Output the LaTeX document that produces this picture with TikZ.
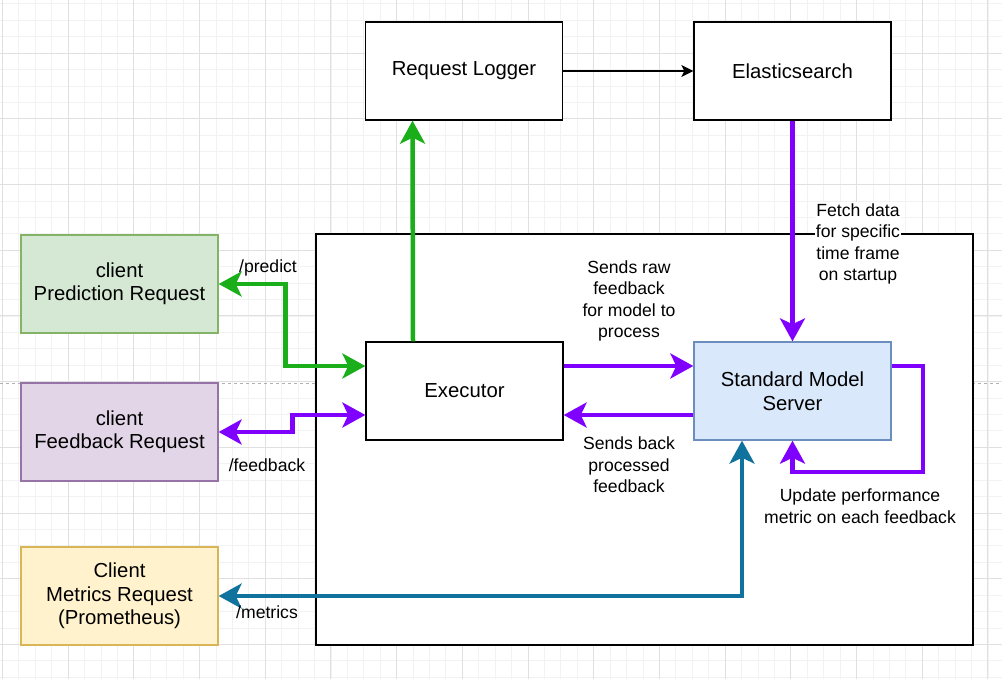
\documentclass[tikz,border=0pt]{standalone}
\usepackage{fontspec}
\setmainfont{Liberation Sans}
\usepackage{tikz}
\usetikzlibrary{positioning}
\usetikzlibrary{arrows.meta,calc}
\definecolor{linkgreen}{HTML}{1AAF1A}
\definecolor{linkpurple}{HTML}{7F00FF}
\definecolor{linkteal}{HTML}{10739E}
\definecolor{greenfill}{HTML}{D5E8D4}
\definecolor{greendraw}{HTML}{82B366}
\definecolor{purplefill}{HTML}{E1D5E7}
\definecolor{purpledraw}{HTML}{9673A6}
\definecolor{yellowfill}{HTML}{FFF2CC}
\definecolor{yellowdraw}{HTML}{D6B656}
\definecolor{bluefill}{HTML}{DAE8FC}
\definecolor{bluedraw}{HTML}{6C8EBF}
\tikzstyle{block}=[rectangle,draw=black,line width=1.3pt,fill=white,minimum width=197pt,minimum height=98pt,inner sep=0pt,align=center,font=\fontsize{20.3}{23.5}\selectfont]
\tikzstyle{edge} = [draw,line width=1.3pt,-{Stealth[length=12pt,width=12pt,inset=3pt]}]
\tikzstyle{thickedge} = [draw,line width=4.5pt,-{Stealth[length=23pt,width=25pt,inset=6pt]}]
\tikzstyle{bothedge} = [draw,line width=4.5pt,{Stealth[length=23pt,width=25pt,inset=6pt]}-{Stealth[length=23pt,width=25pt,inset=6pt]}]
\tikzstyle{weight} = [font=\fontsize{17.6}{21.6}\selectfont,align=center,inner sep=1pt]
\tikzstyle{gridline} = [line width=0.6pt,black!5]
\tikzstyle{majorline} = [line width=0.8pt,black!12]

\begin{document}
\begin{tikzpicture}[x=1pt,y=-1pt]
    \useasboundingbox (0,0) rectangle (1002,679);

    % background grid
    \foreach \k in {-4,...,57}
        \draw[gridline] (68+\k*16.425,0) -- (68+\k*16.425,679);
    \foreach \k in {-3,...,38}
        \draw[gridline] (0,53+\k*16.425) -- (1002,53+\k*16.425);
    \foreach \k in {-1,...,14}
        \draw[majorline] (68+\k*65.7,0) -- (68+\k*65.7,679);
    \foreach \k in {-1,...,10}
        \draw[majorline] (0,53+\k*65.7) -- (1002,53+\k*65.7);
    \draw[black!30,dashed] (0,383) -- (1002,383);

    \node[draw=black,line width=1.3pt,fill=white,minimum width=657pt,minimum height=411pt,inner sep=0pt] (frame) at (644.5,439.5) {};

    \foreach \pos/\name/\txt in {{(464,71)/logger/Request Logger}, {(792.5,71)/elastic/Elasticsearch}, {(464.5,391)/executor/Executor}}
        \node[block] (\name) at \pos {\txt};

    \foreach \pos/\name/\txt/\fillc/\drawc in {{(119.5,284)/predict/client\\Prediction Request/greenfill/greendraw},
        {(119.5,432)/feedback/client\\Feedback Request/purplefill/purpledraw},
        {(119.5,596)/metrics/Client\\Metrics Request\\(Prometheus)/yellowfill/yellowdraw},
        {(792.5,391)/sms/Standard Model\\Server/bluefill/bluedraw}}
        \node[block,fill=\fillc,draw=\drawc] (\name) at \pos {\txt};

    \coordinate (loop) at (923,472);

    \path[edge] (logger) -- (elastic);
    \path[thickedge,draw=linkgreen] ([xshift=-51.5pt]executor.north) -- ([xshift=-51.5pt]logger.south);
    \path[bothedge,draw=linkgreen] (predict.east) -- ++(67,0) |- ([yshift=25pt]executor.west);
    \path[bothedge,draw=linkpurple] (feedback.east) -- ++(74,0) |- ([yshift=-24pt]executor.west);
    \path[thickedge,draw=linkpurple] ([yshift=25pt]executor.east) -- ([yshift=25pt]sms.west);
    \path[thickedge,draw=linkpurple] ([yshift=-24pt]sms.west) -- ([yshift=-24pt]executor.east);
    \path[thickedge,draw=linkpurple] (elastic.south) -- (sms.north);
    \path[thickedge,draw=linkpurple] ([yshift=25pt]sms.east) -| (loop) -| (sms.south);
    \path[bothedge,draw=linkteal] ([xshift=-50.5pt]sms.south) |- (metrics.east);

    \foreach \pos/\name/\txt in {{(629,301)/rawlabel/Sends raw\\feedback\\for model to\\process},
        {(629,465)/backlabel/Sends back\\processed\\feedback},
        {(860,506)/looplabel/Update performance\\metric on each feedback}}
        \node[weight] (\name) at \pos {\txt};
    \node[weight,fill=white] (fetchlabel) at (858,244) {Fetch data\\for specific\\time frame\\on startup};
    \node[weight] (predictlabel) at (268,268) {/predict};
    \node[weight] (feedbacklabel) at (267,465) {/feedback};
    \node[weight] (metricslabel) at (267,612) {/metrics};
\end{tikzpicture}
\end{document}
